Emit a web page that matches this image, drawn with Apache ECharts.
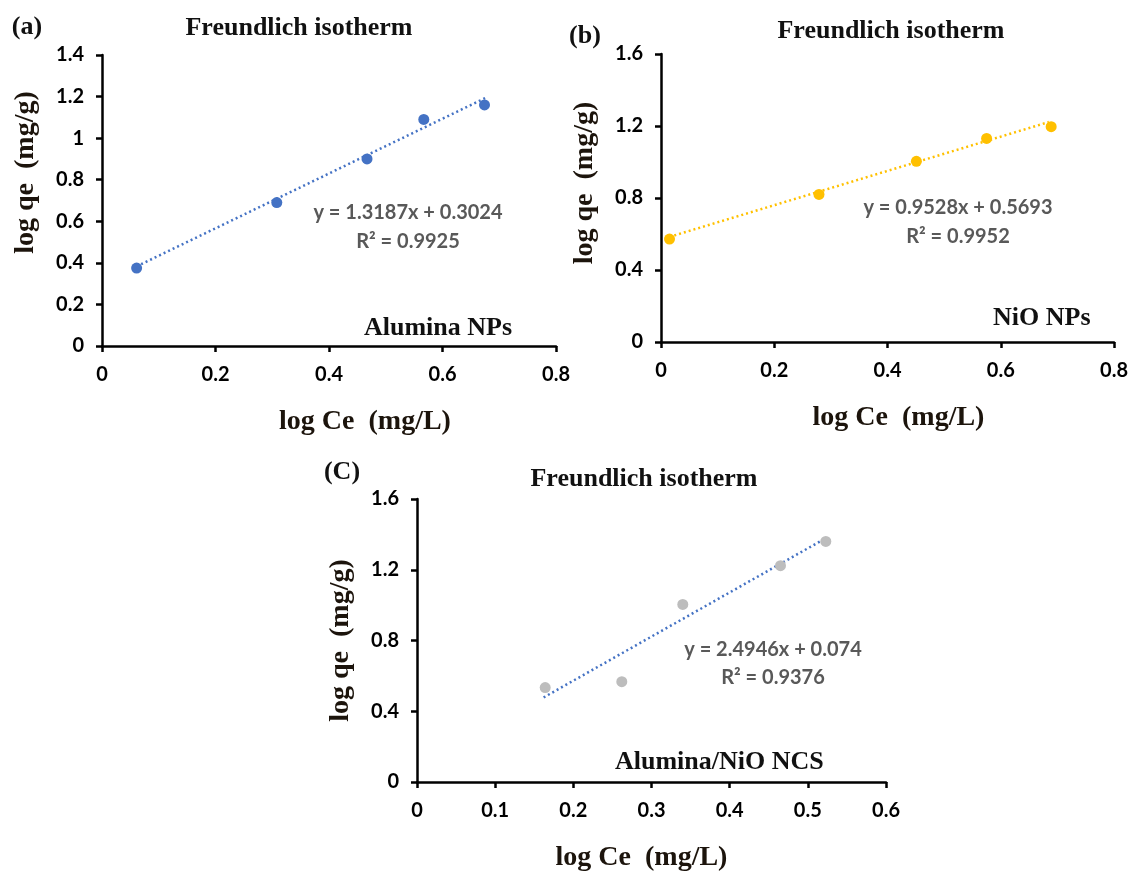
<!DOCTYPE html>
<html>
<head>
<meta charset="utf-8">
<script src="https://cdn.jsdelivr.net/npm/echarts@6/dist/echarts.min.js"></script>
<style>
  html, body { margin: 0; padding: 0; background: #fff; }
  #chart { width: 1131px; height: 873px; }
</style>
</head>
<body>
<div id="chart"></div>
<script>
// (a) Alumina NPs
const aluminaX = [0.061, 0.308, 0.467, 0.567, 0.674]
const aluminaY = [0.375, 0.69, 0.90, 1.09, 1.16]
// (b) NiO NPs
const nioX = [0.015, 0.279, 0.451, 0.575, 0.689]
const nioY = [0.572, 0.82, 1.004, 1.131, 1.196]
// (c) Alumina/NiO NCS
const ncsX = [0.164, 0.262, 0.340, 0.465, 0.523]
const ncsY = [0.534, 0.567, 1.004, 1.223, 1.36]

// linear trend line end points
const aluminaTrend = [[0.061, 0.383], [0.677, 1.195]]
const nioTrend = [[0.015, 0.584], [0.685, 1.222]]
const ncsTrend = [[0.162, 0.478], [0.52, 1.371]]

const panelTags = ['(a)', '(b)', '(C)']
const sampleNames = ['Alumina NPs', 'NiO NPs', 'Alumina/NiO NCS']
const equations = ['y = 1.3187x + 0.3024', 'y = 0.9528x + 0.5693', 'y = 2.4946x + 0.074']
const r2Labels = ['R\u00b2 = 0.9925', 'R\u00b2 = 0.9952', 'R\u00b2 = 0.9376']

const serif = '"Liberation Serif", "Times New Roman", serif'
const sans = 'Lato, "Open Sans", sans-serif'

const chart = echarts.init(document.getElementById('chart'))

const zip = (xs, ys) => xs.map((x, i) => [x, ys[i]])

// shared axis look
const axisLineStyle = { show: true, onZero: false, lineStyle: { color: '#000', width: 2.5 } }
const axisTickStyle = { show: true, length: 6, lineStyle: { color: '#000', width: 2.5 } }
const labelStyle = { color: '#000', fontFamily: sans, fontWeight: 'bold', fontSize: 20 }
const nameStyle = (pad) => ({ color: '#1c140c', fontFamily: serif, fontWeight: 'bold', fontSize: 28, padding: pad })

const makeX = (idx, max, interval, pad) => ({
  type: 'value', gridIndex: idx, min: 0, max: max, interval: interval,
  name: 'log Ce  (mg/L)', nameLocation: 'middle', nameGap: 62, nameTextStyle: nameStyle(pad),
  axisLine: axisLineStyle, axisTick: axisTickStyle,
  axisLabel: Object.assign({ margin: 19 }, labelStyle),
  splitLine: { show: false }
})
const makeY = (idx, max, interval, pad) => ({
  type: 'value', gridIndex: idx, min: 0, max: max, interval: interval,
  name: 'log qe  (mg/g)', nameLocation: 'middle', nameGap: 62, nameTextStyle: nameStyle(pad),
  axisLine: axisLineStyle, axisTick: axisTickStyle,
  axisLabel: Object.assign({ margin: 18 }, labelStyle),
  splitLine: { show: false }
})

const scatter = (idx, data, color) => ({
  type: 'scatter', xAxisIndex: idx, yAxisIndex: idx, data: data,
  symbolSize: 11, itemStyle: { color: color, opacity: 1 }, z: 3
})
const trend = (idx, data, color) => ({
  type: 'line', xAxisIndex: idx, yAxisIndex: idx, data: data,
  symbol: 'none', silent: true,
  lineStyle: { color: color, width: 2.5, type: [2, 3] }, z: 2
})

const txt = (text, x, y, font, color, align) => ({
  type: 'text', x: x, y: y,
  style: { text: text, font: font, fill: color, align: align || 'center', verticalAlign: 'middle' }
})

const titleFont = 'bold 26px ' + serif
const eqFont = 'bold 20px ' + sans

const option = {
  animation: false,
  backgroundColor: '#fff',
  grid: [
    { left: 102, top: 55, width: 454, height: 291 },
    { left: 661, top: 54, width: 456, height: 288 },
    { left: 417, top: 499, width: 469, height: 285 }
  ],
  xAxis: [
    makeX(0, 0.8, 0.2, [0, 0, 0, 72]),
    makeX(1, 0.8, 0.2, [0, 0, 0, 22]),
    makeX(2, 0.6, 0.1, [0, 20, 0, 0])
  ],
  yAxis: [
    makeY(0, 1.4, 0.2, [0, 0, 0, 56]),
    makeY(1, 1.6, 0.4, [0, 0, 0, 30]),
    makeY(2, 1.6, 0.4, [0, 0, 0, 0])
  ],
  series: [
    trend(0, aluminaTrend, '#4472C4'),
    scatter(0, zip(aluminaX, aluminaY), '#4472C4'),
    trend(1, nioTrend, '#FFC000'),
    scatter(1, zip(nioX, nioY), '#FFC000'),
    trend(2, ncsTrend, '#4472C4'),
    scatter(2, zip(ncsX, ncsY), '#BDBDBD')
  ],
  graphic: [
    txt(panelTags[0], 27, 27, titleFont, '#111'),
    txt(panelTags[1], 585, 36, titleFont, '#111'),
    txt(panelTags[2], 342, 472, titleFont, '#111'),
    txt('Freundlich isotherm', 299, 28, titleFont, '#111'),
    txt('Freundlich isotherm', 891, 31, titleFont, '#111'),
    txt('Freundlich isotherm', 644, 479, titleFont, '#111'),
    txt(equations[0], 408, 213, eqFont, '#595959'),
    txt(r2Labels[0], 408, 242, eqFont, '#595959'),
    txt(equations[1], 958, 208, eqFont, '#595959'),
    txt(r2Labels[1], 958, 237, eqFont, '#595959'),
    txt(equations[2], 773, 650, eqFont, '#595959'),
    txt(r2Labels[2], 773, 678, eqFont, '#595959'),
    txt(sampleNames[0], 364, 328, titleFont, '#111', 'left'),
    txt(sampleNames[1], 993, 318, titleFont, '#111', 'left'),
    txt(sampleNames[2], 615, 762, titleFont, '#111', 'left')
  ]
}

chart.setOption(option)
</script>
</body>
</html>
